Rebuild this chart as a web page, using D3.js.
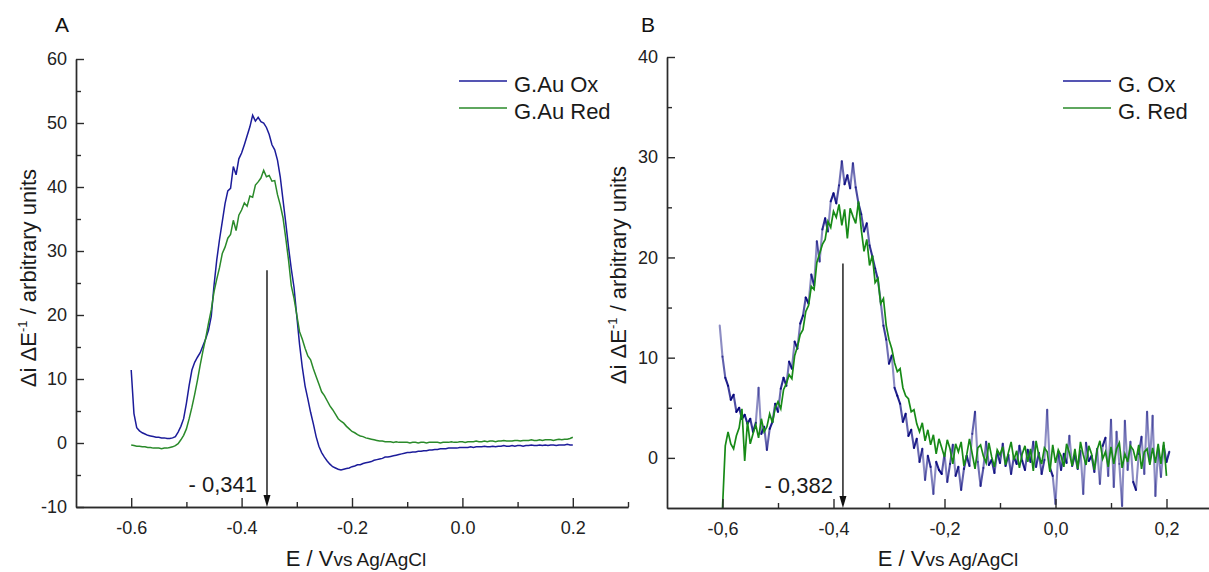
<!DOCTYPE html>
<html>
<head>
<meta charset="utf-8">
<script src="https://cdn.jsdelivr.net/npm/d3@7"></script>
<style>
body { margin: 0; background: #fff; }
svg { display: block; font-family: "Liberation Sans", Arial, sans-serif; }
.axis path, .axis line { stroke: #2b2b2b; stroke-width: 1.4; }
.axis text { fill: #222; font-size: 18px; font-family: "Liberation Sans", Arial, sans-serif; }
</style>
</head>
<body>
<svg id="mysvg" width="1209" height="572"></svg>
<script>
// panel A, G.Au electrode, sampled every 0.005 V from -0.600 V
var aStart = -0.6
var aStep = 0.005
var aOx = [
	11.4, 4.6, 2.4, 1.9, 1.6, 1.4, 1.2, 1.1, 1.0, 0.9,
	0.9, 0.8, 0.8, 0.7, 0.7, 0.8, 1.0, 1.7, 2.6, 3.8,
	6.2, 9.0, 11.4, 12.6, 13.4, 14.1, 15.2, 16.3, 17.6, 19.8,
	24.6, 28.6, 31.8, 34.6, 37.4, 39.4, 39.8, 43.2, 41.9, 44.4,
	45.3, 46.6, 48.0, 49.4, 51.2, 50.3, 50.9, 50.2, 50.0, 49.3,
	48.2, 46.6, 45.8, 44.2, 41.6, 38.0, 34.4, 30.6, 27.2, 24.3,
	19.8, 15.4, 11.8, 8.9, 6.9, 4.8, 3.0, 1.0, -0.5, -1.5,
	-2.2, -2.8, -3.3, -3.7, -3.9, -4.1, -4.2, -4.1, -4.0, -3.9,
	-3.7, -3.6, -3.4, -3.4, -3.2, -3.1, -3.0, -2.9, -2.7, -2.6,
	-2.5, -2.4, -2.2, -2.2, -2.1, -2.0, -1.9, -1.8, -1.7, -1.6,
	-1.5, -1.5, -1.4, -1.4, -1.3, -1.3, -1.2, -1.2, -1.1, -1.1,
	-1.0, -1.0, -0.9, -0.9, -0.9, -0.8, -0.8, -0.8, -0.8, -0.7,
	-0.7, -0.7, -0.7, -0.6, -0.7, -0.6, -0.6, -0.6, -0.5, -0.6,
	-0.6, -0.5, -0.6, -0.5, -0.5, -0.4, -0.5, -0.5, -0.4, -0.5,
	-0.4, -0.4, -0.5, -0.4, -0.4, -0.3, -0.4, -0.4, -0.3, -0.4,
	-0.3, -0.4, -0.3, -0.3, -0.4, -0.3, -0.3, -0.3, -0.2, -0.3,
	-0.3
]
var aRed = [
	-0.3, -0.4, -0.5, -0.5, -0.6, -0.6, -0.7, -0.7, -0.8, -0.8,
	-0.8, -0.9, -0.8, -0.8, -0.7, -0.6, -0.4, -0.1, 0.5, 1.2,
	2.2, 3.8, 5.6, 7.6, 9.8, 12.2, 14.4, 16.4, 18.7, 20.8,
	23.6, 25.6, 27.4, 29.6, 30.6, 32.0, 32.6, 34.8, 33.2, 35.6,
	36.4, 37.5, 37.0, 38.6, 38.4, 40.3, 40.8, 41.4, 42.6, 41.6,
	41.8, 40.9, 41.0, 38.8, 37.2, 35.2, 32.0, 28.6, 24.6, 22.6,
	20.0, 17.4, 16.2, 14.8, 13.6, 13.0, 11.6, 10.4, 9.2, 8.0,
	7.4, 6.6, 5.8, 5.2, 4.5, 3.8, 3.4, 3.1, 2.6, 2.2,
	1.8, 1.6, 1.3, 1.1, 1.0, 0.8, 0.7, 0.6, 0.5, 0.4,
	0.3, 0.3, 0.2, 0.2, 0.2, 0.1, 0.2, 0.1, 0.1, 0.1,
	0.1, 0.0, 0.1, 0.1, 0.0, 0.1, 0.1, 0.0, 0.1, 0.1,
	0.1, 0.1, 0.0, 0.1, 0.1, 0.1, 0.2, 0.1, 0.1, 0.2,
	0.2, 0.1, 0.2, 0.2, 0.2, 0.3, 0.2, 0.2, 0.3, 0.2,
	0.3, 0.3, 0.2, 0.3, 0.3, 0.4, 0.3, 0.3, 0.3, 0.4,
	0.4, 0.3, 0.4, 0.4, 0.4, 0.5, 0.4, 0.4, 0.5, 0.4,
	0.5, 0.5, 0.5, 0.4, 0.5, 0.6, 0.5, 0.6, 0.6, 0.7,
	0.9
]

// panel B, G electrode (noisy), every 0.005 V
var bStep = 0.005
var bOxStart = -0.605
var bOx = [
	13.2, 10.1, 8.0, 7.2, 5.8, 6.3, 4.6, 5.0, 3.9, 4.3,
	3.4, 3.9, 2.6, 3.5, 7.0, 2.4, 3.1, 0.8, 2.9, 3.6,
	5.4, 4.6, 6.9, 8.0, 7.2, 9.6, 8.9, 11.6, 10.9, 13.4,
	14.2, 16.0, 15.4, 18.3, 17.2, 21.6, 19.6, 22.8, 23.9, 22.6,
	25.6, 26.4, 25.4, 27.2, 29.6, 27.3, 28.2, 26.9, 29.4, 27.0,
	25.4, 24.3, 22.6, 23.4, 21.2, 20.1, 18.9, 17.8, 15.6, 13.2,
	11.8, 9.4, 10.2, 7.0, 6.2, 5.4, 3.6, 4.4, 2.2, 2.8,
	1.0, 1.9, -0.4, 0.9, -2.2, 0.2, -0.9, -3.6, -0.4, -1.2,
	-1.6, 0.4, -2.4, -0.6, 1.3, -1.8, -0.9, -3.2, -1.1, 0.2,
	-0.8, 2.4, 4.6, -0.4, -2.8, -1.0, 1.6, -0.7, -0.2, -1.5,
	0.6, -0.5, 1.4, -0.8, 0.3, -1.6, 0.1, -0.6, 1.2, -0.3,
	-1.2, 0.8, -0.4, 1.6, -0.9, 0.5, -1.6, -0.2, 4.8, -1.0,
	-1.8, -4.6, 0.6, -1.2, 0.4, -0.5, 2.2, -0.8, 0.3, -1.1,
	0.7, -3.6, 1.5, -0.3, 0.2, -1.4, 0.9, -2.6, 1.2, 2.0,
	-1.8, 3.8, -2.9, 2.6, -0.6, -4.8, 3.7, -1.2, 1.6, -2.4,
	-3.2, 0.4, 2.1, -1.6, 4.6, -0.4, 4.2, -3.8, 0.9, -1.9,
	1.2, -0.4, 0.6
]
var bRedStart = -0.6
var bRed = [
	-5.0, 1.2, 2.6, 1.4, 0.9, 2.2, 3.0, 4.9, -0.3, 3.6,
	1.4, 2.4, 3.3, 2.0, 3.9, 2.6, 3.1, 4.4, 3.5, 5.0,
	5.6, 4.9, 6.8, 7.4, 8.3, 7.9, 10.2, 11.1, 12.3, 12.8,
	14.6, 15.2, 17.1, 16.8, 19.5, 20.4, 21.3, 21.8, 23.6, 23.0,
	24.6, 24.0, 25.3, 23.2, 24.8, 21.9, 24.9, 24.1, 23.4, 25.6,
	22.8, 20.6, 21.8, 19.2, 20.2, 17.5, 17.9, 15.4, 15.9, 13.2,
	11.8, 10.9, 9.5, 8.6, 8.9, 7.0, 6.2, 5.9, 4.6, 4.8,
	3.4, 2.6, 3.5, 1.7, 2.8, 1.3, 2.3, 0.4, 1.9, 1.0,
	0.1, 1.8, 0.9, -0.6, 1.4, 0.6, 1.6, -0.8, 0.3, 1.9,
	0.4, -1.1, 1.0, 1.3, 0.2, -0.5, 1.5, 0.1, -0.9, 0.8,
	0.3, 1.1, -0.7, 0.5, 1.6, -0.2, 0.7, -1.0, 0.4, 1.2,
	-0.4, 0.9, -1.3, 1.7, 0.2, -0.6, 1.0, 0.6, -1.4, 1.3,
	-0.5, 0.8, 0.2, -0.9, 1.4, 0.5, -0.8, 0.9, -1.1, 1.6,
	0.3, -0.7, 1.2, 0.4, -1.2, 0.8, 1.7, -0.1, 0.6, -0.9,
	1.1, -0.6, 0.9, 1.5, -1.0, 0.4, -0.4, 1.2, 0.8, -0.3,
	1.3, -1.1, 0.6, 0.9, -0.7, 1.0, -0.5, 1.4, -0.6, 1.6,
	-1.8
]

var xTicks = [-0.6, -0.4, -0.2, 0.0, 0.2]
var aXMinor = [-0.5, -0.3, -0.1, 0.1, 0.3]
var bXMinor = [-0.5, -0.3, -0.1, 0.1]
var aYTicks = [-10, 0, 10, 20, 30, 40, 50, 60]
var aYMinor = [-5, 5, 15, 25, 35, 45, 55]
var bYTicks = [0, 10, 20, 30, 40]
var bYMinor = [5, 15, 25, 35]
var aLegend = ['G.Au Ox', 'G.Au Red']
var bLegend = ['G. Ox', 'G. Red']
var aPeak = {e: -0.354, top: 27, label: '- 0,341'}
var bPeak = {e: -0.383, top: 19.4, label: '- 0,382'}

var blue = '#1c1c9a'
var green = '#2a8a2a'

function toPoints(start, step, vals) {
	var pts = []
	for (var i = 0; i < vals.length; i++) {
		pts.push([start + i * step, vals[i]])
	}
	return pts
}

function drawAxes(svg, x, y, xMinor, yTicks, yMinor, fmt) {
	var h = y.range()[0]
	var l = x.range()[0]
	svg.append('g').attr('class', 'axis').attr('transform', 'translate(0,' + h + ')')
		.call(d3.axisBottom(x).tickValues(xMinor).tickSize(-5).tickSizeOuter(0).tickFormat(''))
	svg.append('g').attr('class', 'axis').attr('transform', 'translate(0,' + h + ')')
		.call(d3.axisBottom(x).tickValues(xTicks).tickSize(-9).tickSizeOuter(0).tickPadding(14).tickFormat(fmt))
	svg.append('g').attr('class', 'axis').attr('transform', 'translate(' + l + ',0)')
		.call(d3.axisLeft(y).tickValues(yMinor).tickSize(-5).tickSizeOuter(0).tickFormat(''))
	svg.append('g').attr('class', 'axis').attr('transform', 'translate(' + l + ',0)')
		.call(d3.axisLeft(y).tickValues(yTicks).tickSize(-8).tickSizeOuter(0).tickPadding(9).tickFormat(function(d) { return String(d) }))
}

function drawTitles(svg, cx, letter, lx, yTitleX, yTitleY) {
	svg.append('text').attr('x', lx).attr('y', 32).attr('font-size', 21).attr('fill', '#111').text(letter)
	var t = svg.append('text').attr('transform', 'translate(' + yTitleX + ',' + yTitleY + ') rotate(-90)')
		.attr('text-anchor', 'middle').attr('font-size', 22).attr('fill', '#1a1a1a')
	t.append('tspan').text('\u0394i \u0394E')
	t.append('tspan').attr('font-size', 13).attr('dy', -9).text('-1')
	t.append('tspan').attr('dy', 9).text(' / arbitrary units')
	var xt = svg.append('text').attr('x', cx).attr('y', 566).attr('text-anchor', 'middle').attr('fill', '#1a1a1a')
	xt.append('tspan').attr('font-size', 22).text('E / V')
	xt.append('tspan').attr('font-size', 19).text('vs Ag/AgCl')
}

function drawLegend(svg, x0, names) {
	var cols = [blue, green]
	for (var i = 0; i < names.length; i++) {
		var yy = 81 + i * 27
		svg.append('line').attr('x1', x0).attr('x2', x0 + 48).attr('y1', yy).attr('y2', yy)
			.attr('stroke', cols[i]).attr('stroke-width', 1.6)
		svg.append('text').attr('x', x0 + 55).attr('y', yy + 11).attr('font-size', 22).attr('fill', '#1a1a1a').text(names[i])
	}
}

function drawArrow(svg, x, y, peak) {
	var px = x(peak.e)
	var y0 = y(peak.top)
	var y1 = y.range()[0]
	svg.append('line').attr('x1', px).attr('x2', px).attr('y1', y0).attr('y2', y1 - 10)
		.attr('stroke', '#111').attr('stroke-width', 1.4)
	svg.append('path').attr('d', 'M' + (px - 3.5) + ',' + (y1 - 12) + 'L' + (px + 3.5) + ',' + (y1 - 12) + 'L' + px + ',' + y1 + 'Z')
		.attr('fill', '#111')
	svg.append('text').attr('x', px - 10).attr('y', y1 - 15).attr('text-anchor', 'end')
		.attr('font-size', 22).attr('fill', '#1a1a1a').text(peak.label)
}

var svg = d3.select('#mysvg')

// ---- panel A
var xA = d3.scaleLinear().domain([-0.7, 0.3]).range([76, 628])
var yA = d3.scaleLinear().domain([-10, 60]).range([507, 59])
var lineA = d3.line().x(function(d) { return xA(d[0]) }).y(function(d) { return yA(d[1]) })
svg.append('path').datum(toPoints(aStart, aStep, aOx)).attr('d', lineA)
	.attr('fill', 'none').attr('stroke', blue).attr('stroke-width', 1.5)
svg.append('path').datum(toPoints(aStart, aStep, aRed)).attr('d', lineA)
	.attr('fill', 'none').attr('stroke', green).attr('stroke-width', 1.5)
drawAxes(svg, xA, yA, aXMinor, aYTicks, aYMinor, function(d) { return d.toFixed(1) })
drawArrow(svg, xA, yA, aPeak)
drawLegend(svg, 459, aLegend)
drawTitles(svg, 356, 'A', 55, 36, 278)

// ---- panel B
var xB = d3.scaleLinear().domain([-0.7, 0.3]).range([667, 1222])
var yB = d3.scaleLinear().domain([-5, 40]).range([508, 57])
var oxPts = toPoints(bOxStart, bStep, bOx)
// long noisy jumps come out paler, like the thin spikes of the original trace
var spikeAlpha = d3.scaleLinear().domain([4, 30]).range([0.95, 0.45]).clamp(true)
for (var i = 0; i < oxPts.length - 1; i++) {
	var y1 = yB(oxPts[i][1])
	var y2 = yB(oxPts[i + 1][1])
	svg.append('line')
		.attr('x1', xB(oxPts[i][0])).attr('y1', y1)
		.attr('x2', xB(oxPts[i + 1][0])).attr('y2', y2)
		.attr('stroke', '#00007a').attr('stroke-opacity', spikeAlpha(Math.abs(y2 - y1)))
		.attr('stroke-width', 2.1).attr('stroke-linecap', 'round')
}
var lineB = d3.line().x(function(d) { return xB(d[0]) }).y(function(d) { return yB(d[1]) })
svg.append('path').datum(toPoints(bRedStart, bStep, bRed)).attr('d', lineB)
	.attr('fill', 'none').attr('stroke', '#178a17').attr('stroke-width', 1.7)
drawAxes(svg, xB, yB, bXMinor, bYTicks, bYMinor, function(d) { return d.toFixed(1).replace('.', ',') })
drawArrow(svg, xB, yB, bPeak)
drawLegend(svg, 1063, bLegend)
drawTitles(svg, 948, 'B', 641, 626, 275)
</script>
</body>
</html>
